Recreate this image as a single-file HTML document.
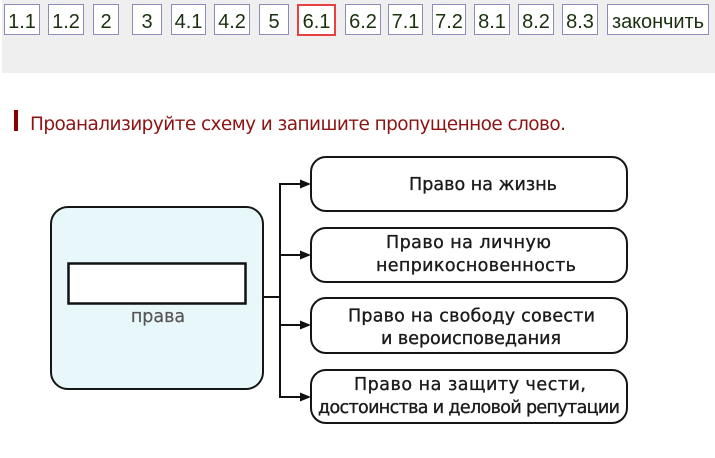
<!DOCTYPE html>
<html><head><meta charset="utf-8"><style>
html,body{margin:0;padding:0;background:#fff;width:715px;height:458px;overflow:hidden}
svg{display:block}
.b{font-family:"Liberation Sans","DejaVu Sans",sans-serif;font-size:20px;fill:#1b3010;text-anchor:middle}
.d{font-family:"DejaVu Sans","Liberation Sans",sans-serif;font-size:17.5px;fill:#1a1a1a;text-anchor:middle;stroke:#1a1a1a;stroke-width:0.35}
</style></head><body>
<svg width="715" height="458" viewBox="0 0 715 458" xmlns="http://www.w3.org/2000/svg">
<rect x="2" y="0" width="713" height="73" fill="#efefef"/>
<g fill="#fff" stroke="#8c8cb8" stroke-width="1">
<rect x="4.5" y="4.5" width="35" height="30"/>
<rect x="48.5" y="4.5" width="35" height="30"/>
<rect x="93.5" y="4.5" width="25" height="30"/>
<rect x="132.5" y="4.5" width="29" height="30"/>
<rect x="171.5" y="4.5" width="34" height="30"/>
<rect x="214.5" y="4.5" width="35" height="30"/>
<rect x="259.5" y="4.5" width="29" height="30"/>
<rect x="345.5" y="4.5" width="35" height="30"/>
<rect x="388.5" y="4.5" width="34" height="30"/>
<rect x="432.5" y="4.5" width="33" height="30"/>
<rect x="474.5" y="4.5" width="35" height="30"/>
<rect x="518.5" y="4.5" width="35" height="30"/>
<rect x="562.5" y="4.5" width="35" height="30"/>
<rect x="607.5" y="4.5" width="101" height="30"/>
</g>
<rect x="298" y="5" width="37" height="30" fill="#fff" stroke="#e8413f" stroke-width="2"/>
<text class="b" x="22" y="28">1.1</text>
<text class="b" x="66" y="28">1.2</text>
<text class="b" x="106" y="28">2</text>
<text class="b" x="147" y="28">3</text>
<text class="b" x="188.5" y="28">4.1</text>
<text class="b" x="232" y="28">4.2</text>
<text class="b" x="274" y="28">5</text>
<text class="b" x="316.5" y="28">6.1</text>
<text class="b" x="363" y="28">6.2</text>
<text class="b" x="405.5" y="28">7.1</text>
<text class="b" x="449" y="28">7.2</text>
<text class="b" x="492" y="28">8.1</text>
<text class="b" x="536" y="28">8.2</text>
<text class="b" x="580" y="28">8.3</text>
<text class="b" x="658" y="28" textLength="92">закончить</text>

<rect x="14" y="110" width="4" height="21" fill="#8b0000"/>
<text x="30" y="130" font-family="DejaVu Sans, Liberation Sans, sans-serif" font-size="18.5" fill="#8b1414" textLength="536">Проанализируйте схему и запишите пропущенное слово.</text>

<rect x="51" y="207" width="212" height="182" rx="17" ry="17" fill="#e8f7f9" stroke="#151515" stroke-width="2"/>
<rect x="68.5" y="263.5" width="177" height="40" fill="#fff" stroke="#111" stroke-width="2.5"/>
<text class="d" x="158" y="322" style="fill:#555;stroke:#555;stroke-width:0.2">права</text>

<g stroke="#111" stroke-width="2" fill="none">
<line x1="263" y1="297" x2="281" y2="297"/>
<line x1="280" y1="183" x2="280" y2="398"/>
<line x1="279" y1="184" x2="302" y2="184"/>
<line x1="279" y1="255" x2="302" y2="255"/>
<line x1="279" y1="325" x2="302" y2="325"/>
<line x1="279" y1="397" x2="302" y2="397"/>
</g>
<g fill="#111">
<polygon points="311,184 300,179.5 300,188.5"/>
<polygon points="311,255 300,250.5 300,259.5"/>
<polygon points="311,325 300,320.5 300,329.5"/>
<polygon points="311,397 300,392.5 300,401.5"/>
</g>

<g fill="#fff" stroke="#151515" stroke-width="2">
<rect x="311" y="157" width="316" height="54" rx="15" ry="15"/>
<rect x="311" y="228" width="316" height="54" rx="15" ry="15"/>
<rect x="311" y="298" width="316" height="55" rx="15" ry="15"/>
<rect x="311" y="370" width="316" height="53" rx="15" ry="15"/>
</g>

<text class="d" x="483" y="190" textLength="148">Право на жизнь</text>
<text class="d" x="468.5" y="248" textLength="165">Право на личную</text>
<text class="d" x="476" y="271" textLength="200">неприкосновенность</text>
<text class="d" x="471.5" y="321.5" textLength="247">Право на свободу совести</text>
<text class="d" x="471" y="344" textLength="180">и вероисповедания</text>
<text class="d" x="470" y="390" textLength="232">Право на защиту чести,</text>
<text class="d" x="469" y="413" textLength="302">достоинства и деловой репутации</text>
</svg>
</body></html>
